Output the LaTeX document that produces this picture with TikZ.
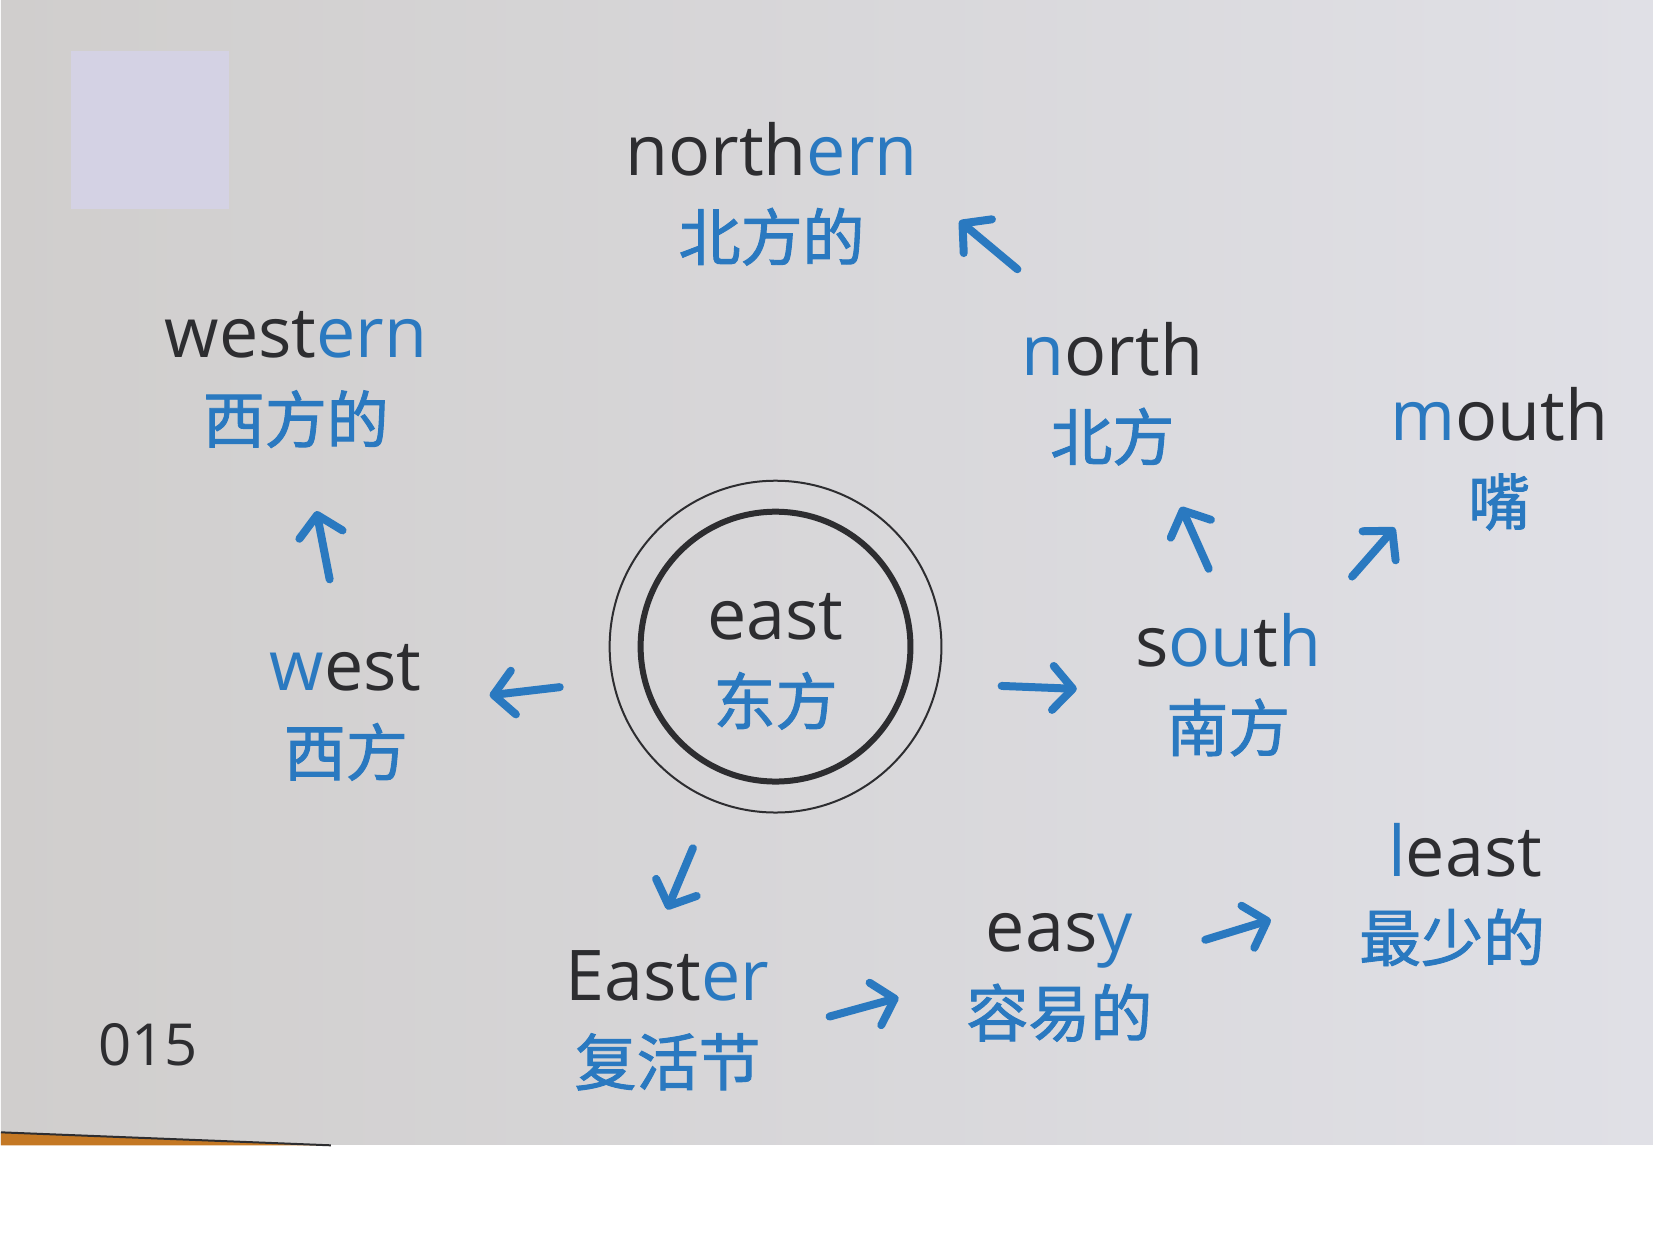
\documentclass[tikz,border=0pt]{standalone}
\usepackage{fontspec}
\setmainfont{Open Sans}
\newfontfamily\cjk{Noto Sans CJK SC}[FakeBold=1.5]
\usetikzlibrary{arrows.meta}
\usepackage{xcolor}

\definecolor{inkblue}{RGB}{42,121,192}
\definecolor{inkblack}{RGB}{45,45,48}
\definecolor{cardleft}{RGB}{208,206,205}
\definecolor{cardright}{RGB}{224,224,230}
\definecolor{tabfill}{RGB}{212,210,228}
\definecolor{edgeorange}{RGB}{196,120,36}

\newcommand{\blu}[1]{\textcolor{inkblue}{#1}}
\newcommand{\zhline}[1]{{\cjk\fontsize{31}{42.5}\selectfont\color{inkblue}#1}}

\begin{document}
\begin{tikzpicture}[
    x=0.5pt, y=-0.5pt,
    word/.style={
        inner sep=0pt,
        align=center,
        text=inkblack,
        font=\fontsize{35}{42.5}\selectfont
    },
    hub/.style={
        circle,
        draw=inkblack,
        line width=3pt,
        minimum size=135pt,
        inner sep=0pt,
        align=center,
        text=inkblack,
        font=\fontsize{35}{42.5}\selectfont
    },
    arr/.style={
        draw=inkblue,
        line width=4pt,
        line cap=round,
        -{Straight Barb[length=10pt,width=22pt,round]}
    }
]

% Card and page
\fill[white] (0,0) rectangle (1653,1239);
\shade[left color=cardleft, right color=cardright] (0,0) rectangle (1653,1145);
\fill[edgeorange] (0,1133) -- (330,1146) -- (0,1146) -- cycle;
\draw[inkblack, line width=1pt] (0,1133) -- (330,1146);
\fill[tabfill] (70,51) rectangle (228,209);

% Centre word
\node[hub] (east) at (775,647) {\rule{0pt}{38pt}east\\\zhline{东方}};
\draw[inkblack, line width=1pt] (east.center) circle[radius=83pt];

% Words around it
\node[word] (west) at (345,713) {\blu{w}est\\\zhline{西方}};
\node[word] (western) at (295,380) {west\blu{ern}\\\zhline{西方的}};
\node[word] (south) at (1228,685) {s\blu{ou}t\blu{h}\\\zhline{南方}};
\node[word] (north) at (1112,394) {\blu{n}orth\\\zhline{北方}};
\node[word] (northern) at (771,194) {north\blu{ern}\\\zhline{北方的}};
\node[word] (mouth) at (1499,459) {\blu{m}outh\\\zhline{嘴}};
\node[word] (easter) at (667,1021) {East\blu{er}\\\zhline{复活节}};
\node[word] (easy) at (1059,978) {eas\blu{y}\\\zhline{容易的}};
\node[word] (least) at (1452,895) {\hspace*{13pt}\blu{l}east\\\zhline{最少的}};

% Page number
\node[text=inkblack, inner sep=0pt, font=\fontsize{29}{34}\selectfont] (pagenum) at (147,1045) {015};

% Arrows
\draw[arr, shorten <=41pt, shorten >=34pt] (east.193) -- (west.7);
\draw[arr, shorten <=33pt, shorten >=32pt] (west.93.5) -- (western.-83);
\draw[arr, shorten <=46.5pt, shorten >=29pt] (east.-15.6) -- (south.184);
\draw[arr, shorten <=24pt, shorten >=22.5pt] (south.90) -- (north.-55);
\draw[arr, shorten <=24pt, shorten >=-2pt] (south.38.7) -- (mouth.214.4);
\draw[arr, shorten <=41pt, shorten >=27pt] (north.114.7) -- (northern.3.6);
\draw[arr, shorten <=40pt, shorten >=22pt] (east.-112) -- (easter.104.7);
\draw[arr, shorten <=31pt, shorten >=35pt] (easter.-7.3) -- (easy.181);
\draw[arr, shorten <=27.5pt, shorten >=46pt] (easy.13.6) -- (least.179.6);

\end{tikzpicture}
\end{document}
